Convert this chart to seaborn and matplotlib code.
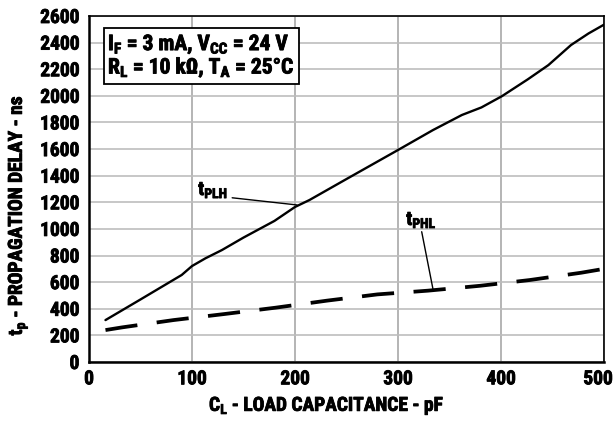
import numpy as np
import pandas as pd
import matplotlib
matplotlib.use("Agg")
import matplotlib.pyplot as plt
import matplotlib.patheffects as pe
import matplotlib.transforms as mtransforms
import seaborn as sns

# Valores (C_L em pF, t_p em ns)
cl_plh = [16, 50, 90, 100, 113, 129, 150, 180, 200, 214, 250, 300, 334, 362, 381,
          401, 426, 446, 468, 485, 500]
tp_plh = [315, 470, 654, 721, 779, 841, 935, 1060, 1165, 1217, 1375, 1593, 1743, 1856, 1913,
          1998, 2124, 2231, 2382, 2469, 2535]

cl_phl = [16, 32, 82, 132, 181, 231, 280, 329, 380, 428, 478, 500]
tp_phl = [240, 260, 315, 361, 408, 461, 508, 536, 573, 616, 671, 700]

x_ticks = [0, 100, 200, 300, 400, 500]
y_ticks = list(range(0, 2601, 200))

sns.set_style("white")
plt.rcParams['font.family'] = ['Roboto Condensed', 'DejaVu Sans']
plt.rcParams['font.weight'] = 'bold'
plt.rcParams['text.color'] = 'black'
plt.rcParams['axes.labelcolor'] = 'black'
plt.rcParams['xtick.color'] = 'black'
plt.rcParams['ytick.color'] = 'black'
plt.rcParams['mathtext.fontset'] = 'custom'
plt.rcParams['mathtext.rm'] = 'Roboto Condensed:bold'
plt.rcParams['mathtext.it'] = 'Roboto Condensed:bold'
plt.rcParams['mathtext.bf'] = 'Roboto Condensed:bold'

FS = 14
heavy = [pe.withStroke(linewidth=0.6, foreground='black')]

df_plh = pd.DataFrame({'cl': cl_plh, 'tp': tp_plh})
df_phl = pd.DataFrame({'cl': cl_phl, 'tp': tp_phl})

fig = plt.figure(figsize=(6.16, 4.23), dpi=100)
ax = fig.add_axes([89 / 616, 1 - 362 / 423, (604 - 89) / 616, (362 - 16) / 423])

sns.lineplot(data=df_plh, x='cl', y='tp', ax=ax, color='black', linewidth=1.7)
sns.lineplot(data=df_phl, x='cl', y='tp', ax=ax, color='black', linewidth=2.7)
ax.lines[-1].set_dashes([8.6, 5.2])
ax.lines[-1].set_solid_capstyle('butt')

ax.set_xlim(0, 500)
ax.set_ylim(0, 2600)
ax.set_xticks(x_ticks)
ax.set_yticks(y_ticks)
ax.tick_params(axis='both', length=0, labelsize=FS)
ax.tick_params(axis='y', pad=7)
ax.tick_params(axis='x', pad=6)
for lab in ax.get_xticklabels() + ax.get_yticklabels():
    lab.set_path_effects(heavy)
# o "500" fica encostado na borda direita
last = ax.get_xticklabels()[-1]
last.set_transform(last.get_transform() +
                   mtransforms.ScaledTranslation(-6 / 100, 0, fig.dpi_scale_trans))

ax.grid(True, axis='y', color='#bdbdbd', linewidth=1.2)
ax.grid(True, axis='x', color='#a8a8a8', linewidth=1.2)
ax.set_axisbelow(True)
for sp in ax.spines.values():
    sp.set_color('black')
    sp.set_linewidth(1.2)
ax.spines['bottom'].set_linewidth(1.8)
ax.spines['left'].set_linewidth(1.8)

ax.set_xlabel(r'C$_\mathregular{L}$ - LOAD CAPACITANCE - pF', fontsize=FS, fontweight='bold',
              path_effects=heavy)
ax.set_ylabel(r't$_\mathregular{p}$ - PROPAGATION DELAY - ns', fontsize=FS, fontweight='bold',
              path_effects=heavy)
ax.xaxis.set_label_coords((327 - 89) / 515, -(396 - 362) / 346)
ax.yaxis.set_label_coords((30 - 89) / 515, (362 - 215) / 346)

# caixa de condições
ax.text((108 - 89) / 515, (362 - 56) / 346,
        'I$_\\mathregular{F}$ = 3 mA, V$_\\mathregular{CC}$ = 24 V\n'
        'R$_\\mathregular{L}$ = 10 kΩ, T$_\\mathregular{A}$ = 25°C',
        transform=ax.transAxes, fontsize=15.5, fontweight='bold', va='center', ha='left',
        linespacing=0.95, path_effects=heavy,
        bbox=dict(boxstyle='square,pad=0.2', facecolor='white', edgecolor='black', linewidth=1.3))

# rótulos das curvas
ax.text(106, 1255, r't$_\mathregular{PLH}$', fontsize=FS, fontweight='bold', ha='left',
        va='baseline', path_effects=heavy)
ax.plot([139, 202], [1234, 1180], color='black', linewidth=1)
ax.text(308, 1030, r't$_\mathregular{PHL}$', fontsize=FS, fontweight='bold', ha='left',
        va='baseline', path_effects=heavy)
ax.plot([323, 334], [979, 546], color='black', linewidth=1)

plt.savefig('out.png', dpi=100)
